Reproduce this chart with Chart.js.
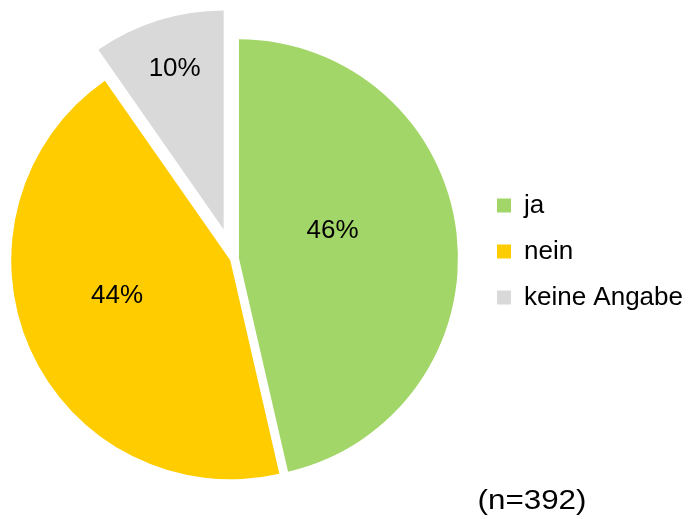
<!DOCTYPE html>
<html lang="de">
<head>
<meta charset="UTF-8">
<title>ja / nein / keine Angabe</title>
<script src="https://cdn.jsdelivr.net/npm/chart.js@4.4.1/dist/chart.umd.min.js"></script>
<style>
  html, body { margin: 0; padding: 0; background: #fff; overflow: hidden; }
  /* canvas is a bit wider than the window and pulled left, so the pie sits further left */
  .chart-wrap { width: 699px; height: 519px; margin-left: -11px; position: relative; }
</style>
</head>
<body>
<div class="chart-wrap"><canvas id="pie"></canvas></div>
<script>
  const categories = ['ja', 'nein', 'keine Angabe'];
  const shares = [46.4, 43.9, 9.7];   // percent; labels show them rounded
  const sampleNote = '(n=392)';

  const sliceColors = ['#a3d668', '#ffcc00', '#d9d9d9'];
  // how far each slice is pulled out of the pie (px)
  const explode = [6, 3, 31];
  // where each percent label sits: part of the radius, and a small turn off the mid angle (deg)
  const labelRadius = [0.473, 0.556, 0.908];
  const labelTurn = [-9.5, 6.2, 0.4];

  const FONT = '"Liberation Sans", Arial, sans-serif';
  Chart.defaults.font.family = FONT;

  // pie where every slice is moved out along its mid angle, without growing the radius
  // (the built-in "offset" also makes the slice bigger)
  class ExplodedPieController extends Chart.PieController {
    draw() {
      const ctx = this.chart.ctx;
      const area = this.chart.chartArea;
      this._cachedMeta.data.forEach((arc, i) => {
        if (arc.hidden) return;
        const mid = (arc.startAngle + arc.endAngle) / 2;
        const d = explode[i] || 0;
        ctx.save();
        ctx.translate(Math.cos(mid) * d, Math.sin(mid) * d);
        arc.draw(ctx, area);
        ctx.restore();
      });
    }
  }
  ExplodedPieController.id = 'explodedPie';
  ExplodedPieController.defaults = Chart.PieController.defaults;
  ExplodedPieController.overrides = Chart.PieController.overrides;
  Chart.register(ExplodedPieController);

  const sliceLabels = {
    id: 'sliceLabels',
    afterDatasetsDraw(chart) {
      const ctx = chart.ctx;
      const arcs = chart.getDatasetMeta(0).data;
      ctx.save();
      ctx.font = '26px ' + FONT;
      ctx.fillStyle = '#000';
      ctx.textAlign = 'center';
      ctx.textBaseline = 'middle';
      arcs.forEach((arc, i) => {
        const p = arc.getProps(['x', 'y', 'startAngle', 'endAngle', 'outerRadius'], true);
        const a = (p.startAngle + p.endAngle) / 2 + labelTurn[i] * Math.PI / 180;
        const r = p.outerRadius * labelRadius[i];
        ctx.fillText(Math.round(shares[i]) + '%', p.x + Math.cos(a) * r, p.y + Math.sin(a) * r);
      });
      ctx.restore();
    }
  };

  // the "(n=...)" note in the lower right corner
  const notePlugin = {
    id: 'sampleNote',
    afterDraw(chart) {
      const ctx = chart.ctx;
      ctx.save();
      ctx.font = '28px ' + FONT;
      ctx.fillStyle = '#000';
      ctx.textAlign = 'center';
      ctx.textBaseline = 'alphabetic';
      ctx.translate(543, 509);
      ctx.scale(1.12, 1);
      ctx.fillText(sampleNote, 0, 0);
      ctx.restore();
    }
  };

  new Chart(document.getElementById('pie'), {
    type: 'explodedPie',
    data: {
      labels: categories,
      datasets: [{
        data: shares,
        backgroundColor: sliceColors,
        borderWidth: 0,
        radius: 219,
        clip: false
      }]
    },
    options: {
      responsive: true,
      maintainAspectRatio: false,
      animation: false,
      events: [],
      layout: { padding: { left: 0, right: -5, top: 0, bottom: 16 } },
      plugins: {
        // empty title only pushes the pie down a bit
        title: { display: true, text: '', padding: { top: 14, bottom: 0 }, font: { size: 1, lineHeight: 1 } },
        legend: {
          position: 'right',
          labels: {
            boxWidth: 14,
            boxHeight: 14,
            padding: 20,
            color: '#000',
            font: { size: 26 }
          }
        },
        tooltip: { enabled: false }
      }
    },
    plugins: [sliceLabels, notePlugin]
  });
</script>
</body>
</html>
